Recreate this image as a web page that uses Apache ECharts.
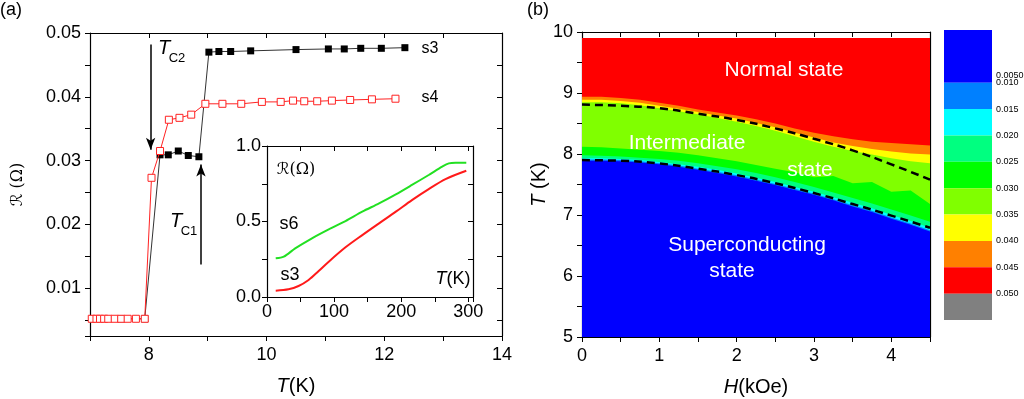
<!DOCTYPE html>
<html>
<head>
<meta charset="utf-8">
<script src="https://cdn.jsdelivr.net/npm/echarts@6.0.0/dist/echarts.min.js"></script>
<style>
  html, body { margin: 0; padding: 0; background: #fff; }
  #main { width: 1024px; height: 399px; }
</style>
</head>
<body>
<div id="main"></div>
<script>
// ---- (a) R(T) near the transition ----
const s3T = [7.05, 7.53, 7.93, 8.19, 8.33, 8.5, 8.67, 8.85, 9.02, 9.19, 9.39, 9.73, 10.5, 11.05, 11.32, 11.6, 11.95, 12.35];
const s3R = [0.0052, 0.0052, 0.0052, 0.0309, 0.0309, 0.0315, 0.0308, 0.0306, 0.0470, 0.0471, 0.0471, 0.0472, 0.0474, 0.0475, 0.0475, 0.0476, 0.0476, 0.0477];
const s4T = [7.03, 7.11, 7.17, 7.24, 7.31, 7.42, 7.53, 7.64, 7.78, 7.93, 8.045, 8.19, 8.34, 8.52, 8.72, 8.96, 9.25, 9.57, 9.92, 10.24, 10.45, 10.64, 10.86, 11.11, 11.42, 11.79, 12.19];
const s4R = [0.0052, 0.0052, 0.0052, 0.0052, 0.0052, 0.0052, 0.0052, 0.0052, 0.0052, 0.0052, 0.0273, 0.0315, 0.0364, 0.0367, 0.0372, 0.0389, 0.0389, 0.0389, 0.0392, 0.0392, 0.0394, 0.0393, 0.0393, 0.0394, 0.0395, 0.0396, 0.0397];
const tc2Arrow = [[8.03, 0.0482], [8.03, 0.0317]];
const tc1Arrow = [[8.885, 0.0137], [8.885, 0.0294]];

// ---- inset R(T) up to room temperature ----
const s6InT = [13, 25, 42, 67, 92, 117, 142, 167, 192, 216, 241, 261, 271, 281, 297];
const s6InR = [0.256, 0.267, 0.322, 0.389, 0.448, 0.503, 0.565, 0.62, 0.68, 0.742, 0.808, 0.863, 0.885, 0.889, 0.889];
const s3InT = [13, 32, 47, 62, 77, 92, 117, 142, 167, 192, 216, 241, 266, 297];
const s3InR = [0.042, 0.051, 0.073, 0.113, 0.172, 0.234, 0.329, 0.41, 0.488, 0.565, 0.642, 0.715, 0.781, 0.836];

// ---- (b) H-T map: upper edge (T) of each colour region at each H ----
const hGrid = [0, 0.25, 0.5, 0.75, 1, 1.25, 1.5, 1.75, 2, 2.25, 2.5, 2.75, 3, 3.25, 3.5, 3.75, 4, 4.25, 4.5];
const redTop    = [9.9, 9.9, 9.9, 9.9, 9.9, 9.9, 9.9, 9.9, 9.9, 9.9, 9.9, 9.9, 9.9, 9.9, 9.9, 9.9, 9.9, 9.9, 9.9];
const orangeTop = [8.94, 8.94, 8.92, 8.89, 8.84, 8.79, 8.73, 8.68, 8.63, 8.57, 8.50, 8.42, 8.35, 8.29, 8.24, 8.20, 8.18, 8.16, 8.14];
const yellowTop = [8.89, 8.89, 8.87, 8.84, 8.79, 8.74, 8.69, 8.63, 8.58, 8.51, 8.44, 8.35, 8.27, 8.19, 8.13, 8.08, 8.04, 8.01, 7.99];
const lawnTop   = [8.85, 8.85, 8.83, 8.80, 8.75, 8.70, 8.65, 8.59, 8.53, 8.46, 8.38, 8.29, 8.20, 8.12, 8.05, 7.99, 7.93, 7.88, 7.85];
const greenTop  = [8.12, 8.11, 8.09, 8.07, 8.05, 8.02, 7.98, 7.93, 7.88, 7.82, 7.76, 7.70, 7.62, 7.64, 7.52, 7.54, 7.38, 7.40, 7.18];
const springTop = [7.98, 7.97, 7.96, 7.94, 7.92, 7.89, 7.85, 7.80, 7.75, 7.69, 7.62, 7.54, 7.46, 7.37, 7.28, 7.19, 7.09, 6.99, 6.89];
const cyanTop   = [7.93, 7.93, 7.92, 7.90, 7.87, 7.83, 7.79, 7.74, 7.68, 7.61, 7.54, 7.46, 7.38, 7.29, 7.20, 7.11, 7.00, 6.90, 6.79];
const dodgerTop = [7.91, 7.91, 7.90, 7.88, 7.85, 7.81, 7.76, 7.71, 7.65, 7.58, 7.51, 7.43, 7.35, 7.26, 7.16, 7.07, 6.96, 6.86, 6.75];
const blueTop   = [7.89, 7.89, 7.88, 7.86, 7.83, 7.79, 7.74, 7.69, 7.63, 7.56, 7.49, 7.41, 7.33, 7.24, 7.14, 7.05, 6.94, 6.84, 6.73];
const dashH     = [0, 0.5, 1, 1.5, 2, 2.5, 3, 3.5, 4, 4.5];
const upperDash = [8.81, 8.79, 8.75, 8.66, 8.56, 8.42, 8.25, 8.06, 7.83, 7.58];
const lowerDash = [7.90, 7.89, 7.845, 7.76, 7.655, 7.52, 7.36, 7.18, 6.99, 6.79];

// colour scale
const scaleLevels = [0, 0.010, 0.015, 0.020, 0.025, 0.030, 0.035, 0.040, 0.045, 0.050, 0.055];
const scaleColors = ['#0000ff', '#0080ff', '#00ffff', '#00ff80', '#00ff00', '#80ff00', '#ffff00', '#ff8000', '#ff0000', '#808080'];

const FONT = 'Liberation Sans, Arial, sans-serif';
const zip = (xs, ys) => xs.map((x, i) => [x, ys[i]]);
const near = (v, step) => Math.abs(v / step - Math.round(v / step)) < 1e-6;

const chart = echarts.init(document.getElementById('main'));

function frameAxis(extra) {
    return Object.assign({
        type: 'value',
        splitLine: { show: false },
        axisLine: { show: true, onZero: false, lineStyle: { color: '#000', width: 1.2 } },
        axisTick: { show: true, inside: false, length: 5, lineStyle: { color: '#000' } },
        axisLabel: { color: '#000', fontSize: 18, fontFamily: FONT },
        nameTextStyle: { color: '#000', fontFamily: FONT }
    }, extra);
}
function mirror(extra) {
    return frameAxis(Object.assign({
        axisTick: { show: true, inside: true, length: 5, lineStyle: { color: '#000' } },
        axisLabel: { show: false }
    }, extra));
}

// one area series per colour region, drawn top-down so the lower ones cover the upper
const bands = [
    ['#ff0000', redTop], ['#ff8000', orangeTop], ['#ffff00', yellowTop], ['#80ff00', lawnTop],
    ['#00ff00', greenTop], ['#00ff80', springTop], ['#00ffff', cyanTop], ['#0080ff', dodgerTop],
    ['#0000ff', blueTop]
].map(([color, tops]) => ({
    type: 'line',
    xAxisIndex: 4, yAxisIndex: 4,
    data: zip(hGrid, tops),
    symbol: 'none',
    silent: true,
    lineStyle: { width: 0 },
    areaStyle: { color: color, opacity: 1, origin: 'start' },
    z: 1
}));

const text = (x, y, str, size, extra) => ({
    type: 'text', x: x, y: y, z: 100, silent: true,
    style: Object.assign({
        text: str, fill: '#000', fontSize: size, fontFamily: FONT,
        align: 'center', verticalAlign: 'middle'
    }, extra)
});

const option = {
    animation: false,
    backgroundColor: '#fff',
    grid: [
        { left: 90, top: 33, width: 412, height: 303, outerBoundsMode: 'none' },
        { left: 267, top: 146, width: 206, height: 151, outerBoundsMode: 'none' },
        { left: 582, top: 32, width: 348, height: 305, outerBoundsMode: 'none' },
        { left: 944, top: 30, width: 48, height: 290, outerBoundsMode: 'none' }
    ],
    xAxis: [
        frameAxis({
            gridIndex: 0, min: 7, max: 14, interval: 1,
            axisLabel: { color: '#000', fontSize: 18, fontFamily: FONT, margin: 10,
                formatter: v => (near(v, 2) ? String(v) : '') },
            name: '{i|T}(K)', nameLocation: 'middle', nameGap: 40,
            nameTextStyle: { color: '#000', fontSize: 20, fontFamily: FONT, rich: { i: { fontStyle: 'italic', fontSize: 20, fontFamily: FONT } } }
        }),
        mirror({ gridIndex: 0, position: 'top', min: 7, max: 14, interval: 1 }),
        frameAxis({
            gridIndex: 1, min: 0, max: 307, interval: 50,
            axisLabel: { color: '#000', fontSize: 18, fontFamily: FONT, margin: 6,
                formatter: v => (near(v, 100) ? String(v) : '') }
        }),
        mirror({ gridIndex: 1, position: 'top', min: 0, max: 307, interval: 50 }),
        frameAxis({
            gridIndex: 2, min: 0, max: 4.5, interval: 0.5,
            axisLabel: { color: '#000', fontSize: 18, fontFamily: FONT, margin: 10,
                formatter: v => (near(v, 1) ? String(Math.round(v)) : '') },
            name: '{i|H}(kOe)', nameLocation: 'middle', nameGap: 40,
            nameTextStyle: { color: '#000', fontSize: 20, fontFamily: FONT, rich: { i: { fontStyle: 'italic', fontSize: 20, fontFamily: FONT } } }
        }),
        mirror({ gridIndex: 2, position: 'top', min: 0, max: 4.5, interval: 0.5 }),
        { type: 'value', gridIndex: 3, min: 0, max: 1, show: false }
    ],
    yAxis: [
        frameAxis({
            gridIndex: 0, min: 0.0025, max: 0.05, splitNumber: 10, minInterval: 0.005, maxInterval: 0.005,
            axisLabel: { color: '#000', fontSize: 18, fontFamily: FONT, margin: 9,
                formatter: v => (v > 0.006 && near(v, 0.01) ? v.toFixed(2) : '') },
            name: 'ℛ (Ω)', nameLocation: 'middle', nameGap: 64,
            nameTextStyle: { color: '#000', fontSize: 16, fontFamily: 'DejaVu Serif, DejaVu Sans, serif' }
        }),
        mirror({ gridIndex: 0, position: 'right', min: 0.0025, max: 0.05, splitNumber: 10, minInterval: 0.005, maxInterval: 0.005 }),
        frameAxis({
            gridIndex: 1, min: 0, max: 1, interval: 0.25,
            axisLabel: { color: '#000', fontSize: 18, fontFamily: FONT, margin: 6,
                formatter: v => (near(v, 0.5) ? v.toFixed(1) : '') }
        }),
        mirror({ gridIndex: 1, position: 'right', min: 0, max: 1, interval: 0.25 }),
        frameAxis({
            gridIndex: 2, min: 5, max: 10, interval: 0.5,
            axisLabel: { color: '#000', fontSize: 18, fontFamily: FONT, margin: 9,
                formatter: v => (near(v, 1) ? String(Math.round(v)) : '') },
            name: '{i|T} (K)', nameLocation: 'middle', nameGap: 30,
            nameTextStyle: { color: '#000', fontSize: 20, fontFamily: FONT, rich: { i: { fontStyle: 'italic', fontSize: 20, fontFamily: FONT } } }
        }),
        mirror({ gridIndex: 2, position: 'right', min: 5, max: 10, interval: 0.5 }),
        {
            type: 'value', gridIndex: 3, position: 'right', inverse: true,
            min: 0, max: 0.055, interval: 0.005,
            axisLine: { show: false }, axisTick: { show: false }, splitLine: { show: false },
            axisLabel: {
                color: '#000', fontSize: 9, fontFamily: FONT, margin: 4,
                formatter: v => {
                    if (v < 0.001 || v > 0.0505) return '';
                    if (v < 0.0075) return '{lo|0.0050}';
                    return v.toFixed(3);
                },
                rich: { lo: { fontSize: 9, fontFamily: FONT, padding: [38, 0, 0, 0] } }
            }
        }
    ],
    graphic: [
        text(0, 10, '(a)', 18, { align: 'left' }),
        text(527, 10, '(b)', 18, { align: 'left' }),
        text(164, 48, 'T', 20, { fontStyle: 'italic' }),
        text(177, 58, 'C2', 13),
        text(176, 221, 'T', 20, { fontStyle: 'italic' }),
        text(189, 231, 'C1', 13),
        text(430, 49, 's3', 16),
        text(430, 98, 's4', 16),
        text(296, 170, 'ℛ(Ω)', 16, { fontFamily: 'DejaVu Serif, DejaVu Sans, serif' }),
        text(289, 224, 's6', 18),
        text(290, 275, 's3', 18),
        text(453, 279, '{i|T}(K)', 18, { rich: { i: { fontStyle: 'italic', fontSize: 18, fontFamily: FONT } } }),
        text(784, 70, 'Normal state', 21, { fill: '#fff' }),
        text(687, 143, 'Intermediate', 21, { fill: '#fff' }),
        text(810, 170, 'state', 21, { fill: '#fff' }),
        text(747, 245, 'Superconducting', 21, { fill: '#fff' }),
        text(732, 271, 'state', 21, { fill: '#fff' })
    ],
    series: [
        {
            name: 's3', type: 'line', xAxisIndex: 0, yAxisIndex: 0,
            data: zip(s3T, s3R),
            symbol: 'rect', symbolSize: 7, showAllSymbol: true,
            itemStyle: { color: '#000' },
            lineStyle: { color: '#333', width: 1 },
            markLine: {
                silent: true, animation: false,
                symbol: ['none', 'arrow'], symbolSize: [7, 12],
                label: { show: false },
                lineStyle: { color: '#000', width: 1.5, type: 'solid' },
                data: [
                    [{ coord: tc2Arrow[0] }, { coord: tc2Arrow[1] }],
                    [{ coord: tc1Arrow[0] }, { coord: tc1Arrow[1] }]
                ]
            },
            z: 3
        },
        {
            name: 's4', type: 'line', xAxisIndex: 0, yAxisIndex: 0,
            data: zip(s4T, s4R),
            symbol: 'rect', symbolSize: 7, showAllSymbol: true,
            itemStyle: { color: '#fff', borderColor: '#f22', borderWidth: 1 },
            lineStyle: { color: '#f22', width: 1 },
            z: 4
        },
        {
            name: 's6 inset', type: 'line', xAxisIndex: 2, yAxisIndex: 2,
            data: zip(s6InT, s6InR), smooth: 0.3, symbol: 'none',
            lineStyle: { color: '#22e022', width: 2 }
        },
        {
            name: 's3 inset', type: 'line', xAxisIndex: 2, yAxisIndex: 2,
            data: zip(s3InT, s3InR), smooth: 0.3, symbol: 'none',
            lineStyle: { color: '#ff1a1a', width: 2 }
        },
        ...bands,
        {
            name: 'upper', type: 'line', xAxisIndex: 4, yAxisIndex: 4,
            data: zip(dashH, upperDash), symbol: 'none', smooth: true,
            lineStyle: { color: '#000', width: 2.5, type: [8, 5] }, z: 5
        },
        {
            name: 'lower', type: 'line', xAxisIndex: 4, yAxisIndex: 4,
            data: zip(dashH, lowerDash), symbol: 'none', smooth: true,
            lineStyle: { color: '#000', width: 2.5, type: [8, 5] }, z: 5
        },
        {
            name: 'scale', type: 'custom', xAxisIndex: 6, yAxisIndex: 6,
            data: scaleColors.map((c, i) => [scaleLevels[i], scaleLevels[i + 1], i]),
            encode: { y: [0, 1] },
            silent: true,
            renderItem: function (params, api) {
                const p0 = api.coord([0, api.value(0)]);
                const p1 = api.coord([1, api.value(1)]);
                return {
                    type: 'rect',
                    shape: { x: p0[0], y: Math.min(p0[1], p1[1]), width: p1[0] - p0[0], height: Math.abs(p1[1] - p0[1]) },
                    style: { fill: scaleColors[api.value(2)] }
                };
            }
        }
    ]
};

chart.setOption(option);
</script>
</body>
</html>
